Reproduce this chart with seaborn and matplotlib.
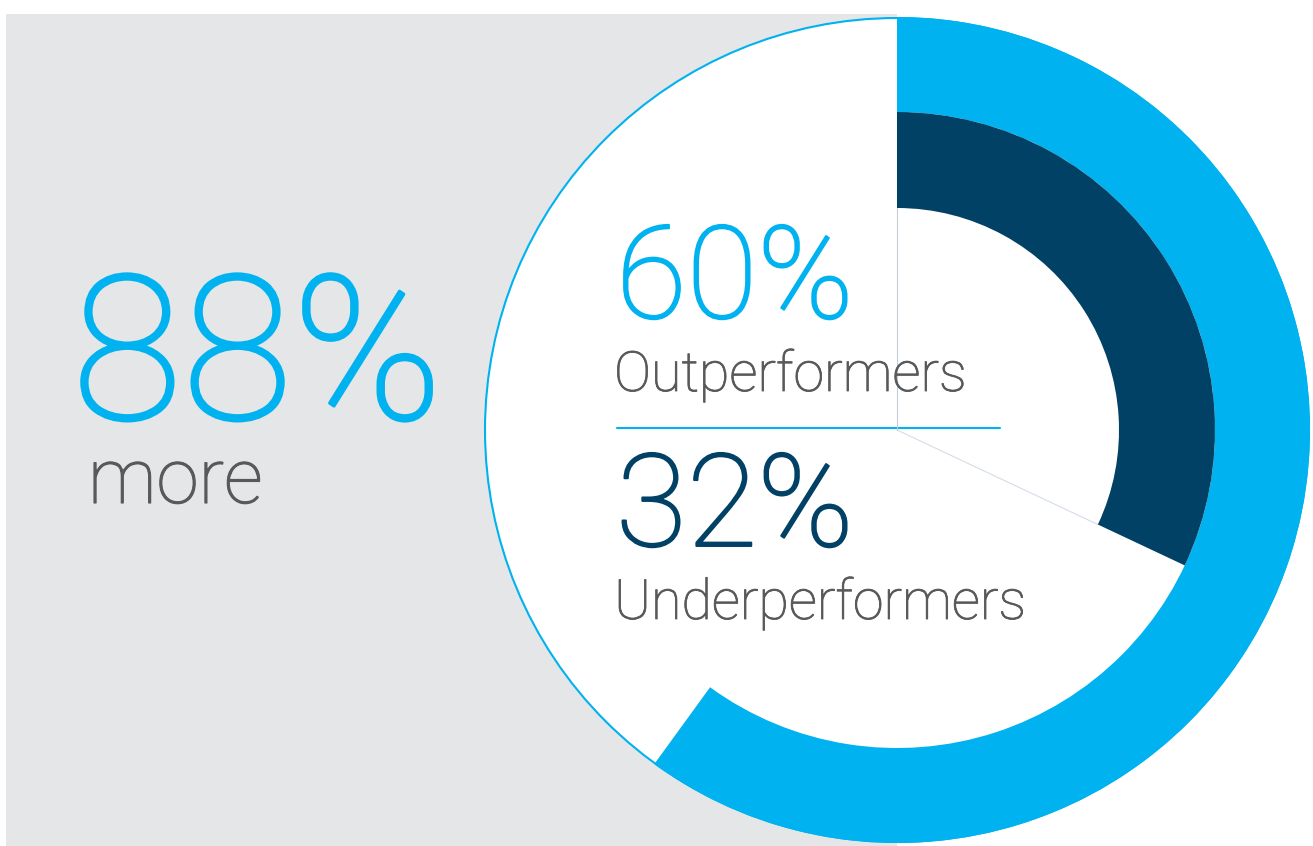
import matplotlib
matplotlib.use("Agg")
import numpy as np
import matplotlib.pyplot as plt
import matplotlib.patheffects as pe
from matplotlib.patches import Rectangle, Circle, Wedge
import seaborn as sns

# Data
groups = ["Outperformers", "Underperformers"]
shares = [60, 32]          # percent of each group
more_value = 88            # outperformers vs underperformers, % more
more_label = "more"

sns.set_theme(style="white")
plt.rcParams['font.family'] = ['Roboto', 'DejaVu Sans']

LIGHT_BLUE = "#00b2ef"
NAVY = "#004165"
TEXT_GRAY = "#58595b"
BG_GRAY = "#e5e6e8"

W, H = 1313, 846
fig = plt.figure(figsize=(W / 100, H / 100), dpi=100)
ax = fig.add_axes([0, 0, 1, 1])
ax.set_xlim(0, W)
ax.set_ylim(0, H)
ax.axis("off")

def py(y):
    # convert a top-down pixel row to data y
    return H - y

def light_text(x, y, s, size, color):
    # Roboto Light, thickened a touch to match the original weight
    lw = 0.015 * size
    ax.text(x, py(y), s, fontsize=size, color=color, fontweight="light",
            ha="left", va="baseline", zorder=4,
            path_effects=[pe.Stroke(linewidth=lw, foreground=color, joinstyle="round"),
                          pe.Normal()])

cx, cy = 897, py(430)
r_outer, r_mid, r_inner = 413, 318, 222

# grey panel on the left
ax.add_patch(Rectangle((6, 0), cx - 6, py(14), color=BG_GRAY, lw=0, zorder=0))

# white disc with thin blue rim
ax.add_patch(Circle((cx, cy), 412, facecolor="white", edgecolor=LIGHT_BLUE, lw=1.5, zorder=1))

# rings: each share drawn clockwise from 12 o'clock
ring_specs = [(r_outer, r_outer - r_mid, LIGHT_BLUE), (r_mid, r_mid - r_inner, NAVY)]
for share, (radius, width, color) in zip(shares, ring_specs):
    sweep = share / 100 * 360
    ax.add_patch(Wedge((cx, cy), radius, 90 - sweep, 90, width=width,
                       facecolor=color, edgecolor="none", zorder=2))

# thin guide lines from centre to the inner ring edges
end_ang = np.deg2rad(90 - shares[1] / 100 * 360)
ax.plot([cx, cx], [cy, cy + r_inner], color="#c5ccd6", lw=0.8, zorder=3.5)
ax.plot([cx, cx + r_inner * np.cos(end_ang)], [cy, cy + r_inner * np.sin(end_ang)],
        color="#d4dde8", lw=0.8, zorder=1.5)

# divider between the two labels
ax.plot([617, 1000], [py(428), py(428)], color=LIGHT_BLUE, lw=1.5, zorder=3)

# big headline number
light_text(72, 419, f"{more_value}%", 145, LIGHT_BLUE)
light_text(88, 503, more_label, 55, TEXT_GRAY)

# group labels inside the ring
label_rows = [(318, 391, LIGHT_BLUE), (546, 619, NAVY)]
for name, share, (y_num, y_name, color) in zip(groups, shares, label_rows):
    light_text(616, y_num, f"{share}%", 93, color)
    light_text(614, y_name, name, 40, TEXT_GRAY)

fig.savefig("out.png", dpi=100)
plt.close(fig)
